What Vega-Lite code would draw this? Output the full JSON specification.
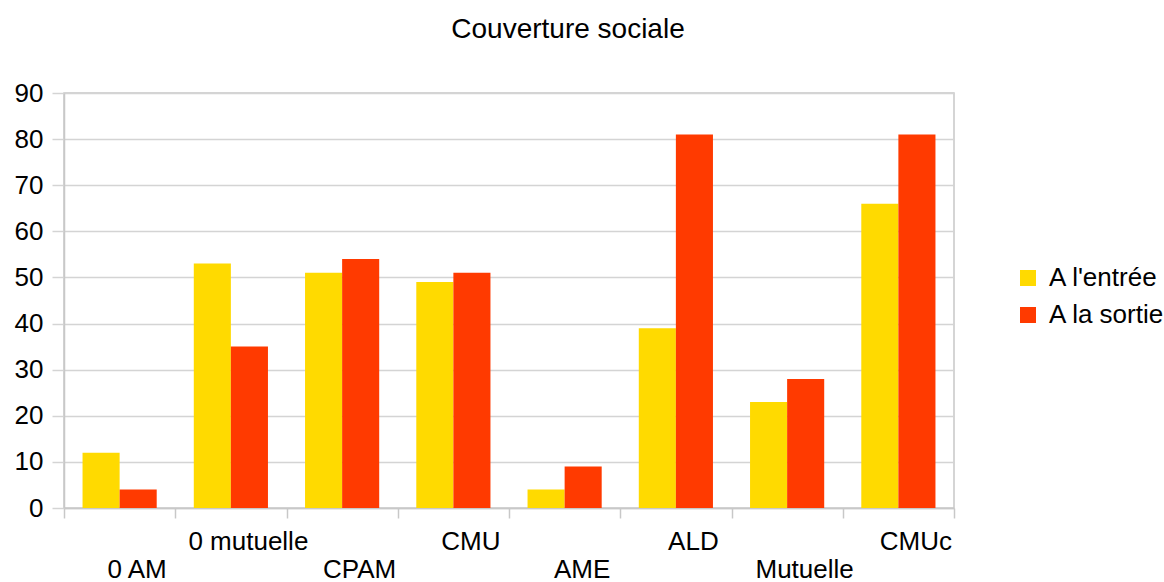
{
  "$schema": "https://vega.github.io/schema/vega-lite/v6.json",
  "autosize": {"type": "none"},
  "padding": {"left": 64, "top": 93, "right": 210, "bottom": 74},
  "width": 890,
  "height": 415,
  "background": "white",
  "title": {
    "text": "Couverture sociale",
    "font": "Liberation Sans",
    "fontSize": 28,
    "fontWeight": "normal",
    "color": "black",
    "anchor": "middle",
    "dx": 59,
    "offset": 36
  },
  "config": {
    "view": {"stroke": "#c8c8c8", "strokeWidth": 1.5},
    "font": "Liberation Sans"
  },
  "data": {
    "values": [
      {"cat": "0 AM", "serie": "A l'entrée", "v": 12},
      {"cat": "0 AM", "serie": "A la sortie", "v": 4},
      {"cat": "0 mutuelle", "serie": "A l'entrée", "v": 53},
      {"cat": "0 mutuelle", "serie": "A la sortie", "v": 35},
      {"cat": "CPAM", "serie": "A l'entrée", "v": 51},
      {"cat": "CPAM", "serie": "A la sortie", "v": 54},
      {"cat": "CMU", "serie": "A l'entrée", "v": 49},
      {"cat": "CMU", "serie": "A la sortie", "v": 51},
      {"cat": "AME", "serie": "A l'entrée", "v": 4},
      {"cat": "AME", "serie": "A la sortie", "v": 9},
      {"cat": "ALD", "serie": "A l'entrée", "v": 39},
      {"cat": "ALD", "serie": "A la sortie", "v": 81},
      {"cat": "Mutuelle", "serie": "A l'entrée", "v": 23},
      {"cat": "Mutuelle", "serie": "A la sortie", "v": 28},
      {"cat": "CMUc", "serie": "A l'entrée", "v": 66},
      {"cat": "CMUc", "serie": "A la sortie", "v": 81}
    ]
  },
  "mark": {"type": "bar"},
  "encoding": {
    "x": {
      "field": "cat",
      "type": "nominal",
      "sort": ["0 AM", "0 mutuelle", "CPAM", "CMU", "AME", "ALD", "Mutuelle", "CMUc"],
      "scale": {"paddingInner": 0, "paddingOuter": 0},
      "axis": {
        "title": null,
        "labelAngle": 0,
        "grid": false,
        "tickBand": "extent",
        "tickSize": 10,
        "tickColor": "#c8c8c8",
        "tickWidth": 1.5,
        "domainColor": "#c8c8c8",
        "domainWidth": 1.5,
        "labelFontSize": 26,
        "labelFont": "Liberation Sans",
        "labelColor": "black",
        "labelBaseline": "top",
        "labelOffset": 17,
        "labelOverlap": false,
        "labelPadding": {
          "condition": {"test": "indexof(['0 AM','CPAM','AME','Mutuelle'], datum.value) >= 0", "value": 38},
          "value": 10
        }
      }
    },
    "xOffset": {
      "field": "serie",
      "type": "nominal",
      "sort": ["A l'entrée", "A la sortie"],
      "scale": {"paddingInner": 0, "paddingOuter": 0.5}
    },
    "y": {
      "field": "v",
      "type": "quantitative",
      "scale": {"domain": [0, 90], "nice": false},
      "axis": {
        "title": null,
        "values": [0, 10, 20, 30, 40, 50, 60, 70, 80, 90],
        "gridColor": "#d4d4d4",
        "gridWidth": 1.5,
        "domainColor": "#c8c8c8",
        "domainWidth": 1.5,
        "tickColor": "#d4d4d4",
        "tickWidth": 1.5,
        "tickSize": 12,
        "labelFontSize": 26,
        "labelFont": "Liberation Sans",
        "labelColor": "black",
        "labelPadding": 9
      }
    },
    "color": {
      "field": "serie",
      "type": "nominal",
      "sort": ["A l'entrée", "A la sortie"],
      "scale": {"domain": ["A l'entrée", "A la sortie"], "range": ["#FFDA00", "#FF3A00"]},
      "legend": {
        "title": null,
        "orient": "none",
        "legendX": 951,
        "legendY": 172,
        "padding": 0,
        "labelFontSize": 26,
        "labelFont": "Liberation Sans",
        "labelColor": "black",
        "symbolType": "square",
        "symbolSize": 256,
        "symbolStrokeWidth": 0,
        "symbolOpacity": 1,
        "rowPadding": 11,
        "labelOffset": 8
      }
    }
  }
}
